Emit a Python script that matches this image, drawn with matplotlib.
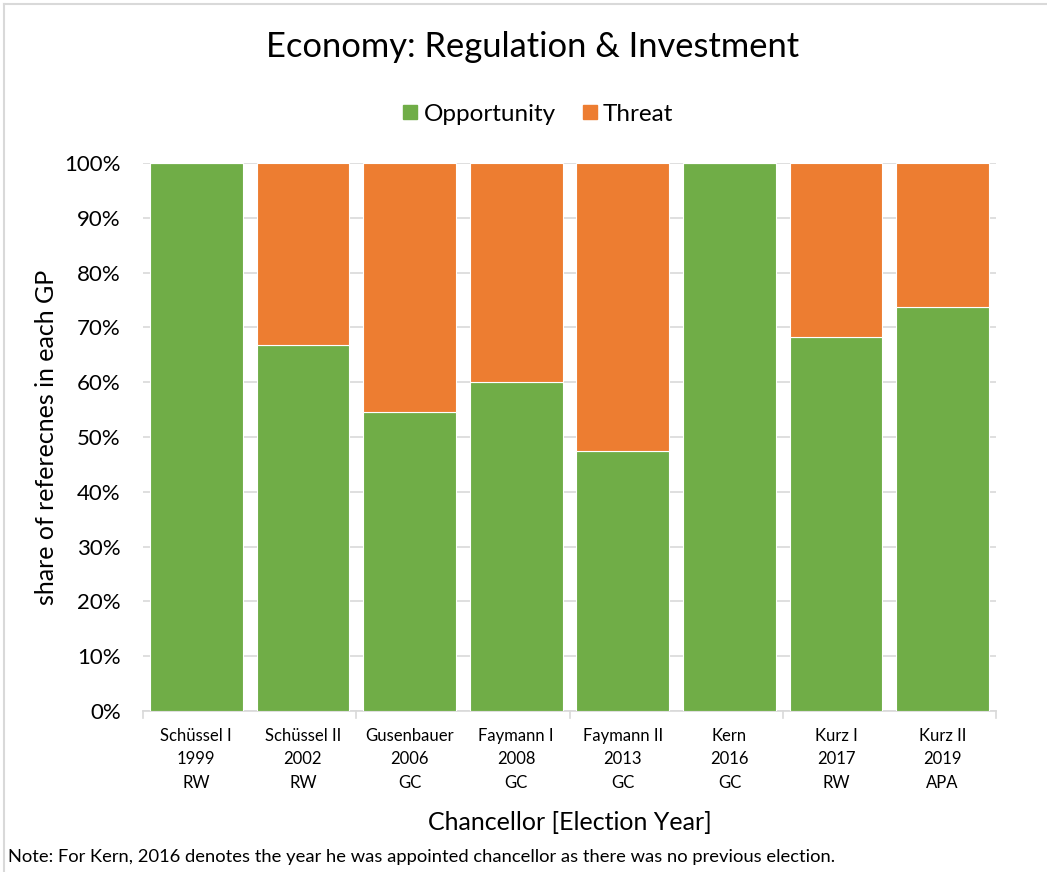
import matplotlib.pyplot as plt
from matplotlib.lines import Line2D
from matplotlib.ticker import FixedLocator, PercentFormatter
import numpy as np

plt.rcParams['font.family'] = ['Lato', 'DejaVu Sans']

chancellors = ['Schüssel I', 'Schüssel II', 'Gusenbauer', 'Faymann I',
               'Faymann II', 'Kern', 'Kurz I', 'Kurz II']
years = ['1999', '2002', '2006', '2008', '2013', '2016', '2017', '2019']
coalitions = ['RW', 'RW', 'GC', 'GC', 'GC', 'GC', 'RW', 'APA']

# share of references (percent)
opportunity = [100.0, 66.7, 54.5, 60.0, 47.4, 100.0, 68.2, 73.7]
threat = [0.0, 33.3, 45.5, 40.0, 52.6, 0.0, 31.8, 26.3]

green = '#70AD47'
orange = '#ED7D31'

fig = plt.figure(figsize=(10.47, 8.72), dpi=100)
ax = fig.add_axes([143 / 1047, 1 - 711 / 872, 853 / 1047, 548 / 872])

x = np.arange(len(chancellors))
ax.bar(x, opportunity, width=0.87, color=green, edgecolor='white', linewidth=0.8,
       label='Opportunity', zorder=3)
ax.bar(x, threat, width=0.87, bottom=opportunity, color=orange, edgecolor='white',
       linewidth=0.8, label='Threat', zorder=3)

ax.set_xlim(-0.5, len(chancellors) - 0.5)
ax.set_ylim(0, 100)
ax.yaxis.set_major_locator(FixedLocator(np.arange(0, 101, 10)))
ax.yaxis.set_major_formatter(PercentFormatter(decimals=0))
ax.grid(axis='y', color='#D9D9D9', linewidth=1.2, zorder=0)

ax.set_xticks(x)
ax.set_xticklabels([f'{c}\n{y}\n{g}' for c, y, g in zip(chancellors, years, coalitions)],
                   fontsize=12, linespacing=1.6)
ax.tick_params(axis='x', length=0, pad=12)
ax.tick_params(axis='y', length=0, pad=16, labelsize=16)
# boundary ticks every two categories
for b in np.arange(-0.5, len(chancellors), 2):
    ax.plot([b, b], [0, -1.3], color='#D9D9D9', lw=1.2, clip_on=False, zorder=2)

for s in ['top', 'right', 'left']:
    ax.spines[s].set_visible(False)
ax.spines['bottom'].set_color('#D9D9D9')
ax.spines['bottom'].set_linewidth(1.2)

fig.text(47 / 1047, 1 - 437 / 872, 'share of referecnes in each GP', rotation=90,
         ha='center', va='center', fontsize=18)
ax.set_xlabel('Chancellor [Election Year]', fontsize=18, labelpad=14)

fig.text(533 / 1047, 1 - 47 / 872, 'Economy: Regulation & Investment',
         ha='center', va='center', fontsize=24.8)

handles = [Line2D([], [], marker='s', ls='', color=green, markersize=10.5),
           Line2D([], [], marker='s', ls='', color=orange, markersize=10.5)]
fig.legend(handles, ['Opportunity', 'Threat'], loc='center',
           bbox_to_anchor=(538 / 1047, 1 - 114 / 872), ncol=2, frameon=False,
           fontsize=17.5, handlelength=0.6, handletextpad=0.25, columnspacing=1.1)

fig.text(8 / 1047, 1 - 857 / 872,
         'Note: For Kern, 2016 denotes the year he was appointed chancellor as there was no previous election.',
         ha='left', va='center', fontsize=13.2)

# chart area border
fig.add_artist(Line2D([4 / 1047, 1], [1 - 4 / 872, 1 - 4 / 872], color='#D9D9D9', lw=1.5))
fig.add_artist(Line2D([4 / 1047, 4 / 1047], [0, 1 - 4 / 872], color='#D9D9D9', lw=1.5))

fig.savefig('out.png', dpi=100)
